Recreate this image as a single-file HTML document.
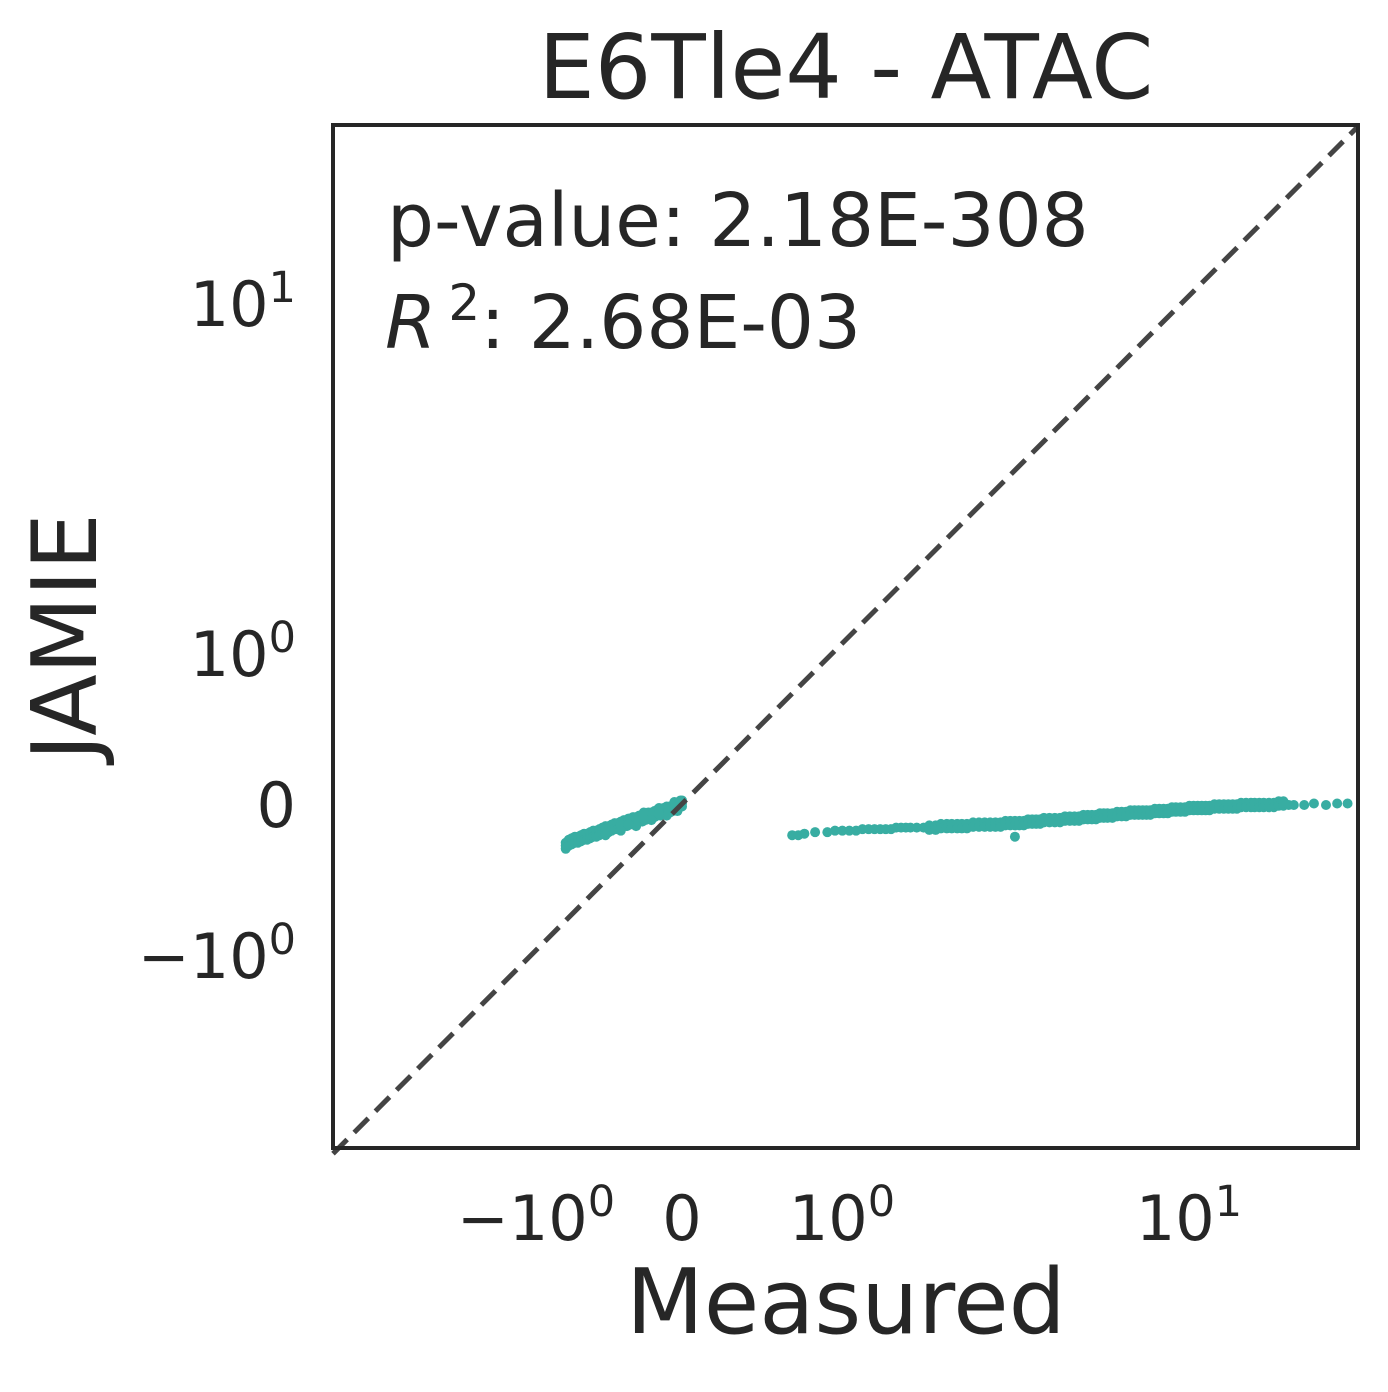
<!DOCTYPE html>
<html><head><meta charset="utf-8"><style>
body{margin:0;background:#fff;}
svg text{font-family:"DejaVu Sans","Liberation Sans",sans-serif;fill:#262626;}
</style></head><body>
<svg width="1388" height="1387" xmlns="http://www.w3.org/2000/svg">
<rect width="1388" height="1387" fill="#fff"/>
<text x="846" y="98" font-size="89" text-anchor="middle">E6Tle4 - ATAC</text>
<g id="marks"></g>
<line id="diag" stroke="#444" stroke-width="5" stroke-dasharray="20,10"/>
<rect x="333" y="125" width="1025" height="1023" fill="none" stroke="#262626" stroke-width="4"/>
<g id="ticks"></g>
<text x="387" y="246" font-size="74">p-value: 2.18E-308</text>
<text x="385" y="348" font-size="74"><tspan font-style="italic">R</tspan><tspan font-size="50" dy="-28" dx="12">2</tspan><tspan dy="28">: 2.68E-03</tspan></text>
<text x="846" y="1333" font-size="90" text-anchor="middle">Measured</text>
<text transform="translate(96,637) rotate(-90)" font-size="90" text-anchor="middle">JAMIE</text>
</svg>
<script>
const c1x=[-0.76,-0.74,-0.72,-0.7,-0.68,-0.66,-0.64,-0.62,-0.6,-0.58,-0.56,-0.54,-0.52,-0.5,-0.48,-0.46,-0.44,-0.42,-0.4,-0.38,-0.36,-0.34,-0.32,-0.3,-0.28,-0.26,-0.24,-0.22,-0.2,-0.18,-0.16,-0.14,-0.12,-0.1,-0.08,-0.06,-0.04,-0.02,-0.01,0.0,-0.5,-0.4,-0.3,-0.2,-0.1,-0.15,-0.25,-0.35,-0.05,-0.03];
const c1y=[-0.27,-0.25,-0.24,-0.23,-0.23,-0.22,-0.21,-0.21,-0.2,-0.19,-0.19,-0.18,-0.17,-0.16,-0.16,-0.15,-0.14,-0.14,-0.13,-0.12,-0.12,-0.11,-0.1,-0.1,-0.09,-0.09,-0.08,-0.07,-0.07,-0.06,-0.05,-0.05,-0.04,-0.03,-0.03,-0.02,-0.01,0.0,0.01,0.01,-0.18,-0.15,-0.12,-0.08,-0.05,-0.04,-0.07,-0.11,0.0,-0.02];
const c2x=[0.72,0.76,0.8,0.87,0.95,1.0,1.05,1.1,1.15,1.2,1.25,1.3,1.35,1.4,1.45,1.5,1.55,1.6,1.65,1.72,1.8,1.87,1.95,2.02,2.1,2.17,2.25,2.32,2.4,2.5,2.6,2.7,2.8,2.9,3.0,3.1,3.2,3.3,3.4,3.5,3.6,3.7,3.8,3.9,4.0,4.15,4.3,4.45,4.6,4.75,4.9,5.05,5.2,5.35,5.5,5.65,5.8,5.95,6.1,6.3,6.5,6.7,6.9,7.1,7.3,7.5,7.7,7.9,8.1,8.35,8.6,8.85,9.1,9.35,9.6,9.9,10.2,10.5,10.8,11.1,11.4,11.7,12.0,12.4,12.8,13.2,13.6,14.0,14.4,14.8,15.3,15.8,16.2,16.7,17.2,17.8,18.4,19.0,19.6,20.3,21,22.5,24,26,28,30,3.3];
const c2y=[-0.2,-0.2,-0.19,-0.18,-0.18,-0.17,-0.17,-0.17,-0.17,-0.16,-0.16,-0.16,-0.16,-0.16,-0.16,-0.15,-0.15,-0.15,-0.15,-0.15,-0.15,-0.15,-0.15,-0.14,-0.14,-0.14,-0.14,-0.14,-0.14,-0.13,-0.13,-0.13,-0.13,-0.13,-0.13,-0.12,-0.12,-0.12,-0.12,-0.12,-0.11,-0.11,-0.11,-0.11,-0.1,-0.1,-0.1,-0.1,-0.09,-0.09,-0.09,-0.09,-0.08,-0.08,-0.08,-0.08,-0.07,-0.07,-0.07,-0.07,-0.06,-0.06,-0.06,-0.05,-0.05,-0.05,-0.05,-0.05,-0.05,-0.04,-0.04,-0.04,-0.04,-0.03,-0.03,-0.03,-0.03,-0.02,-0.02,-0.02,-0.02,-0.02,-0.02,-0.01,-0.01,-0.01,-0.01,-0.01,-0.01,0.0,0.0,0.0,0.0,0.0,0.0,0.0,0.0,0.01,0.01,0.0,0.0,0.0,0.01,0.0,0.01,0.01,-0.21];
const xTicks=[-1,0,1,10];
const xTickBase=['−10','0','10','10'];
const xTickExp=['0','','0','1'];
const yTicks=[-1,0,1,10];
const yTickBase=['−10','0','10','10'];
const yTickExp=['0','','0','1'];
function sym(v,L,D){const a=Math.abs(v);const s=Math.sign(v);return a<=1?v*L:s*(L+D*Math.log10(a));}
function X(v){return 682+sym(v,153,347);}
function Y(v){return 805-sym(v,151,350);}
function inv(p,L,D){const a=Math.abs(p),s=Math.sign(p);return a<=L?p/L:s*Math.pow(10,(a-L)/D);}
const NS='http://www.w3.org/2000/svg';
const g=document.getElementById('marks');
function dot(x,y){const c=document.createElementNS(NS,'circle');c.setAttribute('cx',X(x));c.setAttribute('cy',Y(y));c.setAttribute('r',5);c.setAttribute('fill','#38ada2');


g.appendChild(c);}
for(let i=0;i<c1x.length;i++){dot(c1x[i],c1y[i]);dot(c1x[i],c1y[i]+0.02);dot(c1x[i],c1y[i]-0.02);}
for(let i=0;i<c2x.length;i++){dot(c2x[i],c2y[i]);if(i>20&&i<c2x.length-8){dot(c2x[i],c2y[i]+0.015);dot(c2x[i],c2y[i]-0.015);}}
const lo=inv(333-682,153,347),hi=inv(1358-682,153,347);
const d=document.getElementById('diag');
d.setAttribute('x1',X(lo));d.setAttribute('y1',Y(lo));d.setAttribute('x2',X(hi));d.setAttribute('y2',Y(hi));
const tg=document.getElementById('ticks');
function lab(t,base,exp){t.textContent='';const a=document.createElementNS(NS,'tspan');a.textContent=base;t.appendChild(a);
if(exp){const b=document.createElementNS(NS,'tspan');b.setAttribute('font-size','43');b.setAttribute('dy','-24');b.textContent=exp;t.appendChild(b);}}
xTicks.forEach((v,i)=>{const t=document.createElementNS(NS,'text');t.setAttribute('x',X(v)+(xTickExp[i]?7:0));t.setAttribute('y',1240);t.setAttribute('font-size','62');t.setAttribute('text-anchor','middle');lab(t,xTickBase[i],xTickExp[i]);


tg.appendChild(t);});
yTicks.forEach((v,i)=>{const t=document.createElementNS(NS,'text');t.setAttribute('x',296);t.setAttribute('y',Y(v)+22);t.setAttribute('font-size','62');t.setAttribute('text-anchor','end');lab(t,yTickBase[i],yTickExp[i]);


tg.appendChild(t);});
</script>
</body></html>
